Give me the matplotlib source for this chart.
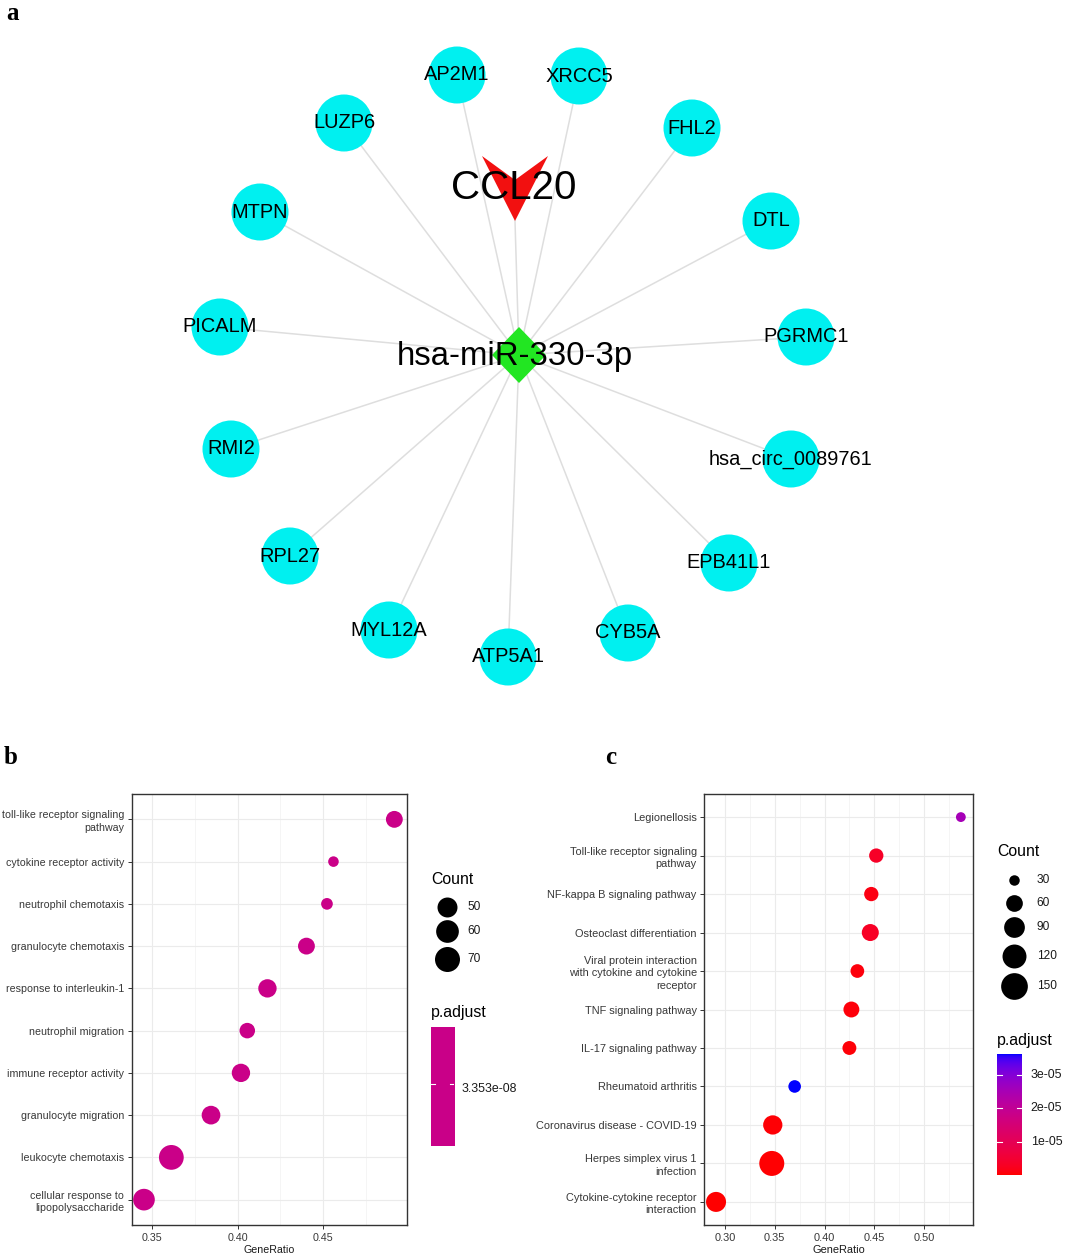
import numpy as np
import matplotlib

matplotlib.use("Agg")

import matplotlib.pyplot as plt
from matplotlib.colors import ListedColormap, Normalize
from matplotlib.patches import Circle, Polygon

W, H = 1065, 1260

# ---- panel a: network (layout positions in pixels) ----
hub_name = "hsa-miR-330-3p"
hub_xy = (519, 355)
target_name = "CCL20"
target_xy = (515, 221)
node_names = ["AP2M1", "XRCC5", "FHL2", "DTL", "PGRMC1", "hsa_circ_0089761",
              "EPB41L1", "CYB5A", "ATP5A1", "MYL12A", "RPL27", "RMI2",
              "PICALM", "MTPN", "LUZP6"]
node_x = [457, 579, 692, 771, 806, 791, 729, 628, 508, 389, 290, 231, 220, 260, 344]
node_y = [75, 76, 128, 221, 337, 459, 563, 633, 657, 630, 556, 449, 327, 212, 123]

# ---- panel b: GO enrichment ----
b_terms = ["toll-like receptor signaling\npathway", "cytokine receptor activity",
           "neutrophil chemotaxis", "granulocyte chemotaxis",
           "response to interleukin-1", "neutrophil migration",
           "immune receptor activity", "granulocyte migration",
           "leukocyte chemotaxis", "cellular response to\nlipopolysaccharide"]
b_ratio = [0.4917, 0.4561, 0.4523, 0.4403, 0.4175, 0.4057, 0.4020, 0.3845, 0.3613, 0.3453]
b_count = [41, 31, 32, 41, 45, 38, 45, 46, 69, 56]
b_padj = 3.353e-08
b_count_breaks = [50, 60, 70]

# ---- panel c: KEGG enrichment ----
c_terms = ["Legionellosis", "Toll-like receptor signaling\npathway",
           "NF-kappa B signaling pathway", "Osteoclast differentiation",
           "Viral protein interaction\nwith cytokine and cytokine\nreceptor",
           "TNF signaling pathway", "IL-17 signaling pathway",
           "Rheumatoid arthritis", "Coronavirus disease - COVID-19",
           "Herpes simplex virus 1\ninfection",
           "Cytokine-cytokine receptor\ninteraction"]
c_ratio = [0.537, 0.452, 0.447, 0.446, 0.433, 0.427, 0.425, 0.370, 0.348, 0.347, 0.291]
c_count = [28, 46, 46, 62, 43, 55, 44, 38, 78, 131, 84]
c_padj = [2.55e-05, 3.4e-06, 1.2e-06, 3.0e-06, 8.0e-07, 6.0e-07, 5.0e-07,
          3.63e-05, 4.0e-07, 2.0e-07, 1.5e-08]
c_count_breaks = [30, 60, 90, 120, 150]
c_padj_ticks = [1e-05, 2e-05, 3e-05]

FONT = "Liberation Sans"
plt.rcParams["font.family"] = FONT
TICK_GREY = "#383838"


def srgb_to_lab(rgb):
    c = np.asarray(rgb, dtype=float)
    lin = np.where(c <= 0.04045, c / 12.92, ((c + 0.055) / 1.055) ** 2.4)
    m = np.array([[0.4124, 0.3576, 0.1805], [0.2126, 0.7152, 0.0722], [0.0193, 0.1192, 0.9505]])
    xyz = m @ lin / np.array([0.95047, 1.0, 1.08883])
    f = np.where(xyz > 0.008856, np.cbrt(xyz), 7.787 * xyz + 16 / 116)
    return np.array([116 * f[1] - 16, 500 * (f[0] - f[1]), 200 * (f[1] - f[2])])


def lab_to_srgb(lab):
    L, a, b = lab
    fy = (L + 16) / 116
    f = np.array([fy + a / 500, fy, fy - b / 200])
    xyz = np.where(f ** 3 > 0.008856, f ** 3, (f - 16 / 116) / 7.787) * np.array([0.95047, 1.0, 1.08883])
    m = np.array([[3.2406, -1.5372, -0.4986], [-0.9689, 1.8758, 0.0415], [0.0557, -0.2040, 1.0570]])
    lin = np.clip(m @ xyz, 0, 1)
    c = np.where(lin <= 0.0031308, 12.92 * lin, 1.055 * lin ** (1 / 2.4) - 0.055)
    return np.clip(c, 0, 1)


# red -> blue gradient interpolated in Lab, like ggplot's continuous colour scale
lab_lo = srgb_to_lab([1, 0, 0])
lab_hi = srgb_to_lab([0, 0, 1])
grad = ListedColormap([lab_to_srgb(lab_lo + (lab_hi - lab_lo) * t) for t in np.linspace(0, 1, 256)])


def b_diam(v):
    return 7.86 + 2.71 * np.sqrt(np.maximum(np.asarray(v, float) - 30, 0))


def c_diam(v):
    return 4.25 + 1.97 * np.sqrt(np.maximum(np.asarray(v, float) - 20, 0))


def px2s(d):
    # pixel diameter -> scatter area in pt^2 at dpi 100
    return (np.asarray(d) * 0.72) ** 2


def px_axes(fig, x0, y0, x1, y1):
    return fig.add_axes([x0 / W, 1 - y1 / H, (x1 - x0) / W, (y1 - y0) / H])


def dot_panel(ax, terms, ratio, sizes, colors, xlim, xticks, minor, fs):
    n = len(terms)
    ys = np.arange(n, 0, -1)
    ax.set_xlim(*xlim)
    ax.set_ylim(0.4, n + 0.6)
    ax.set_xticks(xticks)
    ax.set_xticks(minor, minor=True)
    ax.set_xticklabels([f"{t:.2f}" for t in xticks], fontsize=fs, color=TICK_GREY)
    ax.set_yticks(ys)
    ax.set_yticklabels(terms, fontsize=fs, color=TICK_GREY, linespacing=1.3)
    ax.grid(True, which="major", color="#EBEBEB", lw=0.8)
    ax.grid(True, which="minor", axis="x", color="#F2F2F2", lw=0.5)
    ax.set_axisbelow(True)
    ax.tick_params(which="major", length=3, width=0.7, color="#333333", pad=2.5)
    ax.tick_params(which="minor", length=0)
    for s in ax.spines.values():
        s.set_color("#333333")
        s.set_linewidth(1.0)
    ax.scatter(ratio, ys, s=sizes, c=colors, linewidths=0, zorder=3)
    ax.set_xlabel("GeneRatio", fontsize=fs, color="#1A1A1A", labelpad=1.5)


fig = plt.figure(figsize=(W / 100, H / 100), dpi=100)
base = fig.add_axes([0, 0, 1, 1])
base.set_xlim(0, W)
base.set_ylim(H, 0)
base.axis("off")

# edges
for x, y in zip(node_x, node_y):
    base.plot([hub_xy[0], x], [hub_xy[1], y], color="#DEDEDE", lw=1.1, zorder=1)
base.plot([hub_xy[0], target_xy[0]], [hub_xy[1], target_xy[1]], color="#DEDEDE", lw=1.1, zorder=1)

# nodes
for name, x, y in zip(node_names, node_x, node_y):
    base.add_patch(Circle((x, y), 28.5, facecolor="#00F0F0", edgecolor="none", zorder=2))
    base.text(x, y, name, fontsize=14.4, ha="center", va="center", zorder=4)

tx, ty = target_xy
base.add_patch(Polygon([(tx - 33, ty - 65), (tx, ty - 41), (tx + 33, ty - 65), (tx, ty)],
                       closed=True, facecolor="#F21010", edgecolor="none", zorder=2))
base.text(tx - 1, ty - 33, target_name, fontsize=29, ha="center", va="center", zorder=4)

hx, hy = hub_xy
base.add_patch(Polygon([(hx, hy - 28), (hx + 27, hy), (hx, hy + 28), (hx - 27, hy)],
                       closed=True, facecolor="#22E622", edgecolor="none", zorder=2))
base.text(hx - 4, hy + 1, hub_name, fontsize=23.7, ha="center", va="center", zorder=4)

for lab, x, y in [("a", 6, 14), ("b", 4, 757), ("c", 605, 757)]:
    base.text(x, y, lab, fontsize=18, fontweight="bold", family="Liberation Serif",
              ha="left", va="center")

# ---- panel b ----
axb = px_axes(fig, 132, 794, 407, 1225)
b_col = lab_to_srgb(lab_lo + (lab_hi - lab_lo) * 0.5)
dot_panel(axb, b_terms, b_ratio, px2s(b_diam(b_count)), [b_col] * len(b_terms),
          (0.3383, 0.4991), [0.35, 0.40, 0.45], [0.375, 0.425, 0.475], 7.7)

base.text(431, 880, "Count", fontsize=11.4, ha="left", va="center")
for v, y in zip(b_count_breaks, [906.5, 931, 958.5]):
    base.scatter([446.5], [y], s=px2s(b_diam(v)), color="black", linewidths=0)
    base.text(467.5, y, str(v), fontsize=8.6, ha="left", va="center", color="#1A1A1A")
base.text(431, 1012, "p.adjust", fontsize=11.4, ha="left", va="center")
cbb = px_axes(fig, 430.7, 1027, 454.3, 1146)
cbb.imshow([[0.5]], cmap=grad, norm=Normalize(0, 1), aspect="auto", extent=(0, 1, 0, 1))
cbb.plot([0, 0.2], [0.52, 0.52], color="white", lw=0.8)
cbb.plot([0.8, 1], [0.52, 0.52], color="white", lw=0.8)
cbb.set_xlim(0, 1)
cbb.set_ylim(0, 1)
cbb.axis("off")
base.text(462, 1089, "%.3e" % b_padj, fontsize=8.9, ha="left", va="center", color="#1A1A1A")

# ---- panel c ----
axc = px_axes(fig, 704.3, 794, 972.7, 1225)
pmin, pmax = min(c_padj), max(c_padj)
cnorm = Normalize(pmin, pmax)
dot_panel(axc, c_terms, c_ratio, px2s(c_diam(c_count)), grad(cnorm(c_padj)),
          (0.2792, 0.5489), [0.30, 0.35, 0.40, 0.45, 0.50],
          [0.325, 0.375, 0.425, 0.475, 0.525], 7.9)

base.text(997, 852, "Count", fontsize=11.4, ha="left", va="center")
for v, y in zip(c_count_breaks, [880, 902.7, 926.7, 956, 986]):
    base.scatter([1013.8], [y], s=px2s(c_diam(v)), color="black", linewidths=0)
    base.text(1036.7, y, str(v), fontsize=8.6, ha="left", va="center", color="#1A1A1A")
base.text(997, 1040, "p.adjust", fontsize=11.4, ha="left", va="center")
cbc = px_axes(fig, 997.3, 1054, 1022.3, 1175)
cbc.imshow(np.linspace(pmin, pmax, 256)[::-1, None], cmap=grad, norm=cnorm, aspect="auto",
           extent=(0, 1, pmin, pmax))
for t in c_padj_ticks:
    cbc.plot([0, 0.2], [t, t], color="white", lw=0.8)
    cbc.plot([0.8, 1], [t, t], color="white", lw=0.8)
    y = 1175 - (t - pmin) / (pmax - pmin) * (1175 - 1054)
    base.text(1030.7, y, "%.0e" % t, fontsize=8.9, ha="left", va="center", color="#1A1A1A")
cbc.set_xlim(0, 1)
cbc.set_ylim(pmin, pmax)
cbc.axis("off")

fig.savefig("out.png", dpi=100)
